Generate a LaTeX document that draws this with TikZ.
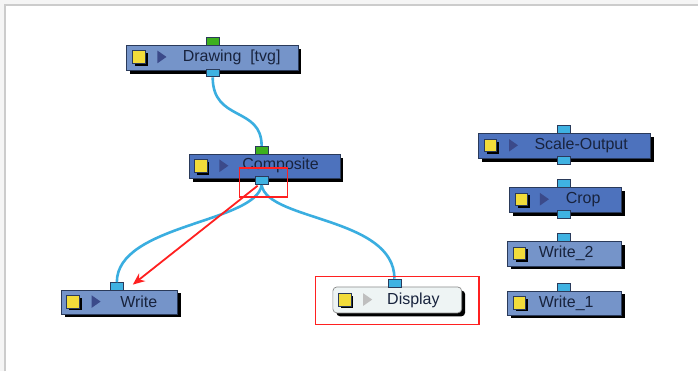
\documentclass[tikz,border=0pt]{standalone}
\usepackage{fontspec}
\setmainfont{Liberation Sans}
\usetikzlibrary{shadows,arrows.meta,calc,shapes.geometric}
\definecolor{nlight}{HTML}{7594C9}
\definecolor{ndark}{HTML}{4D72BD}
\definecolor{nedge}{HTML}{2A3A5A}
\definecolor{ntext}{HTML}{18233D}
\definecolor{wirec}{HTML}{3AAEE0}
\definecolor{portg}{HTML}{3DB01E}
\definecolor{portb}{HTML}{3FB2E2}
\definecolor{dispf}{HTML}{EEF4F4}
\definecolor{hired}{HTML}{FF2020}
\definecolor{yel}{HTML}{F2DC3A}
\definecolor{tri}{HTML}{3B4A8A}
\begin{document}
\begin{tikzpicture}[x=1pt,y=-1pt,
  nbox/.style={rectangle, draw=nedge, line width=0.7pt, inner sep=0pt, anchor=north west,
    drop shadow={shadow xshift=3.5pt, shadow yshift=-3.5pt, fill=black, opacity=1}},
  lbl/.style={font=\fontsize{16}{16}\selectfont, text=ntext, inner sep=0pt},
  port/.style={rectangle, draw=nedge, line width=0.8pt, minimum width=13pt, minimum height=8pt, inner sep=0pt},
  gport/.style={port, fill=portg},
  bport/.style={port, fill=portb},
  ysq/.style={rectangle, fill=yel, draw=nedge, line width=0.4pt, minimum size=12.5pt, inner sep=0pt,
    drop shadow={shadow xshift=2.5pt, shadow yshift=-2.5pt, fill=black, opacity=1}},
  tric/.style={isosceles triangle, fill=#1, inner sep=0pt, minimum width=11pt, minimum height=9pt, isosceles triangle apex angle=70},
  wire/.style={draw=wirec, line width=2.6pt},
  redbox/.style={rectangle, draw=hired, line width=1.8pt, inner sep=0pt, anchor=north west},
]
% background and frame
\fill[white!96!black] (0,0) rectangle (699,372);
\fill[white] (5,5) rectangle (699,372);
\draw[black!20, line width=2pt] (5,372) -- (5,5) -- (699,5);

% Drawing [tvg]
\node[nbox, fill=nlight, minimum width=172pt, minimum height=25pt] (drw) at (126,45) {};
\node[ysq] (drwY) at (139,57) {};
\node[tric=tri] (drwT) at (161,57) {};
\node[lbl] (drwL) at (232,57.5) {Drawing\ \ [tvg]};
\node[gport] (dti) at (213,41.5) {};
\node[bport] (dbo) at (213,73) {};

% Composite
\node[nbox, fill=ndark, minimum width=151pt, minimum height=24pt] (cmp) at (189,154) {};
\node[ysq] (cmpY) at (201,166) {};
\node[tric=tri] (cmpT) at (223,166) {};
\node[lbl] (cmpL) at (281,166) {Composite};
\node[gport] (cti) at (262,150.5) {};
\node[bport] (cbo) at (262,181) {};

% Write
\node[nbox, fill=nlight, minimum width=116pt, minimum height=24pt] (wri) at (61,290) {};
\node[ysq] (wriY) at (73,302) {};
\node[tric=tri] (wriT) at (95,302) {};
\node[lbl] (wriL) at (139,302.5) {Write};
\node[bport] (wio) at (117,287) {};

% Display
\node[nbox, fill=dispf, draw=black!45, rounded corners=4pt, minimum width=129pt, minimum height=26pt] (dsp) at (333,287) {};
\node[ysq] (dspY) at (345,300) {};
\node[tric=black!25] (dspT) at (367,300) {};
\node[lbl] (dspL) at (414,300.5) {Display};
\node[bport] (dsi) at (395,283.5) {};

% Scale-Output
\node[nbox, fill=ndark, minimum width=172pt, minimum height=25pt] (sco) at (479,133) {};
\node[ysq] (scoY) at (491,145.5) {};
\node[tric=tri] (scoT) at (513,145.5) {};
\node[lbl] (scoL) at (582,146) {Scale-Output};
\node[bport] (sci) at (565,129.5) {};
\node[bport] (scb) at (565,161) {};

% Crop
\node[nbox, fill=ndark, minimum width=112pt, minimum height=25pt] (crp) at (510,187) {};
\node[ysq] (crpY) at (522,199.5) {};
\node[tric=tri] (crpT) at (544,199.5) {};
\node[lbl] (crpL) at (584,200) {Crop};
\node[bport] (cri) at (565,183.5) {};
\node[bport] (crb) at (565,215) {};

% Write_2
\node[nbox, fill=nlight, minimum width=114pt, minimum height=25pt] (w2) at (508,241) {};
\node[ysq] (w2Y) at (520,253.5) {};
\node[lbl] (w2L) at (567,254) {Write\_2};
\node[bport] (w2i) at (565,237.5) {};

% Write_1
\node[nbox, fill=nlight, minimum width=114pt, minimum height=24pt] (w1) at (508,291) {};
\node[ysq] (w1Y) at (520,303) {};
\node[lbl] (w1L) at (567,303.5) {Write\_1};
\node[bport] (w1i) at (565,287.5) {};

% wires
\draw[wire] (dbo.south) .. controls +(0,45) and +(0,-40) .. (cti.north);
\draw[wire] (cbo.south) .. controls +(-6,38) and +(0,-58) .. (wio.north);
\draw[wire] (cbo.south) .. controls +(6,36) and +(0,-62) .. (dsi.north);

% highlights
\node[redbox, minimum width=48pt, minimum height=29pt] (hl1) at (239,167) {};
\node[redbox, minimum width=164pt, minimum height=48pt] (hl2) at (315,276) {};
\coordinate (aS) at (258,186);
\coordinate (aE) at (133,285);
\draw[hired, line width=1.8pt, -{Stealth[length=12pt,width=10pt]}] (aS) -- (aE);
\end{tikzpicture}
\end{document}
